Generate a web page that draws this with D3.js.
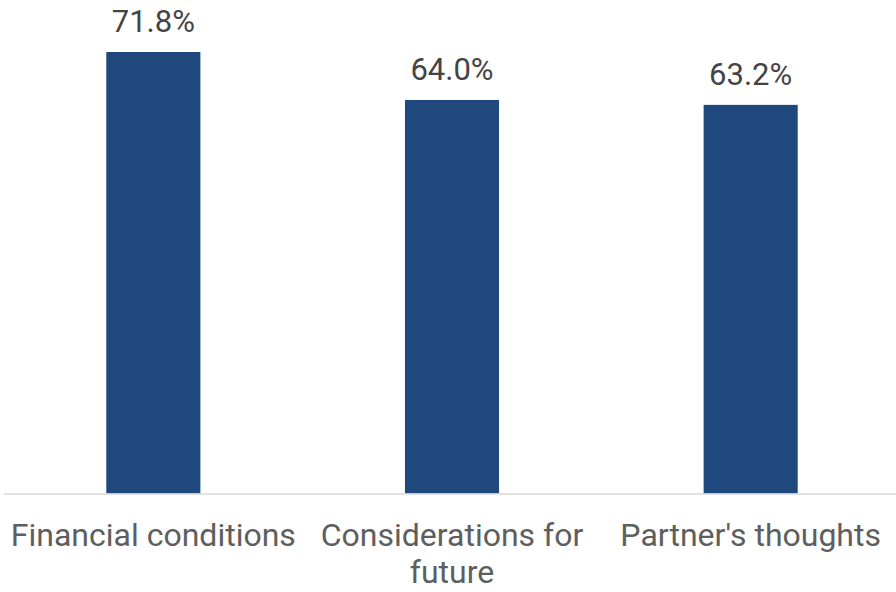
<!DOCTYPE html>
<html>
<head>
<meta charset="utf-8">
<script src="https://cdn.jsdelivr.net/npm/d3@7/dist/d3.min.js"></script>
<style>
  html, body { margin: 0; padding: 0; background: #ffffff; }
  svg { display: block; font-family: Roboto, "Noto Sans", sans-serif; font-weight: 400; }
</style>
</head>
<body>
<svg id="chart" width="896" height="592"></svg>
<script>
// Share of respondents citing each reason (%)
const categories = ["Financial conditions", "Considerations for future", "Partner's thoughts"];
const categoryLines = [["Financial conditions"], ["Considerations for", "future"], ["Partner's thoughts"]];
const values = [71.8, 64.0, 63.2];

const svg = d3.select("#chart");
const baseline = 493.5;

const x = d3.scaleBand()
  .domain(categories)
  .range([4, 900])
  .paddingInner(0.685)
  .paddingOuter(0.3425);

const y = d3.scaleLinear()
  .domain([0, 80])
  .range([baseline, baseline - 80 * 6.149]);

// bars
svg.append("g")
  .selectAll("rect")
  .data(values)
  .join("rect")
  .attr("x", (d, i) => x(categories[i]))
  .attr("y", d => y(d))
  .attr("width", x.bandwidth())
  .attr("height", d => y(0) - y(d))
  .attr("fill", "#1f497d");

// category axis line
svg.append("line")
  .attr("x1", 4).attr("x2", 896)
  .attr("y1", baseline + 0.5).attr("y2", baseline + 0.5)
  .attr("stroke", "#d9d9d9")
  .attr("stroke-width", 1.5);

// value labels
svg.append("g")
  .selectAll("text")
  .data(values)
  .join("text")
  .attr("x", (d, i) => x(categories[i]) + x.bandwidth() / 2)
  .attr("y", d => y(d) - 20)
  .attr("text-anchor", "middle")
  .attr("font-size", 31)
  .attr("fill", "#444444")
  .text(d => d3.format(".1f")(d) + "%");

// category labels
const cat = svg.append("g")
  .selectAll("text")
  .data(categories)
  .join("text")
  .attr("x", d => x(d) + x.bandwidth() / 2)
  .attr("y", 546)
  .attr("text-anchor", "middle")
  .attr("font-size", 32)
  .attr("fill", "#5e5e5e");

cat.selectAll("tspan")
  .data((d, i) => categoryLines[i])
  .join("tspan")
  .attr("x", function () { return d3.select(this.parentNode).attr("x"); })
  .attr("dy", (d, i) => i === 0 ? 0 : 37)
  .text(d => d);
</script>
</body>
</html>
